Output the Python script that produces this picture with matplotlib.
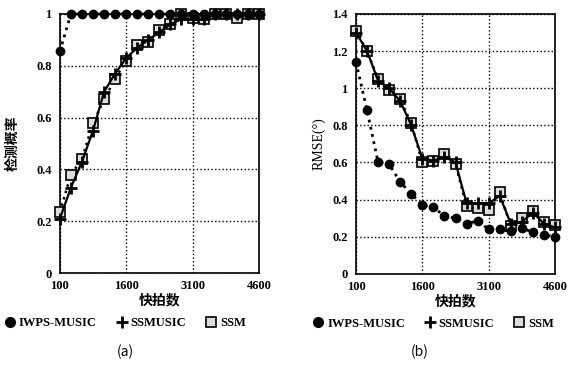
import numpy as np
import matplotlib
matplotlib.use("Agg")
import matplotlib.pyplot as plt
from matplotlib.lines import Line2D

# snapshot counts
snapshots = np.arange(100, 4601, 250)

# (a) detection probability
pd_iwps = [0.856, 1, 1, 1, 1, 1, 1, 1, 1, 1, 1, 1, 1, 1, 1, 1, 1, 1, 1]
pd_ssmusic = [0.21, 0.33, 0.43, 0.55, 0.70, 0.77, 0.83, 0.87, 0.90, 0.93,
              0.96, 0.98, 0.98, 0.98, 1, 1, 1, 1, 1]
pd_ssm = [0.235, 0.38, 0.44, 0.58, 0.67, 0.75, 0.82, 0.88, 0.89, 0.94,
          0.96, 1.0, 0.985, 0.98, 1, 1, 0.985, 1, 1]

# (b) RMSE
rmse_iwps = [1.14, 0.88, 0.60, 0.59, 0.495, 0.43, 0.37, 0.36, 0.31, 0.30,
             0.27, 0.285, 0.24, 0.24, 0.23, 0.245, 0.225, 0.21, 0.20]
rmse_ssmusic = [1.30, 1.20, 1.04, 1.00, 0.93, 0.80, 0.62, 0.61, 0.63, 0.60,
                0.38, 0.38, 0.38, 0.42, 0.27, 0.28, 0.33, 0.27, 0.25]
rmse_ssm = [1.31, 1.20, 1.05, 0.99, 0.94, 0.81, 0.60, 0.61, 0.645, 0.59,
            0.365, 0.355, 0.345, 0.44, 0.255, 0.30, 0.34, 0.28, 0.265]

names = ["IWPS-MUSIC", "SSMUSIC", "SSM"]
xticks = [100, 1600, 3100, 4600]

serif = ["Liberation Serif", "DejaVu Serif"]
cjk = ["Noto Sans CJK SC", "DejaVu Sans"]


def draw(ax, iwps, ssmusic, ssm, yticks, ylabels, leg_x):
    ax.plot(snapshots, ssm, color="black", ls=":", lw=1.8, marker="s", ms=6.5,
            mfc="#dddddd", mec="black", mew=1.2, zorder=3, clip_on=False)
    ax.plot(snapshots, ssmusic, color="black", ls="-", lw=1.6, marker="+", ms=8,
            mew=2.0, zorder=4, clip_on=False)
    ax.plot(snapshots, iwps, color="black", ls=":", lw=2.0, marker="o", ms=6,
            mfc="black", mec="black", zorder=5, clip_on=False)
    ax.set_xlim(100, 4600)
    ax.set_xticks(xticks)
    ax.set_xticklabels([str(v) for v in xticks], family=serif, fontsize=9,
                       fontweight="bold")
    ax.set_yticks(yticks)
    ax.set_yticklabels(ylabels, family=serif, fontsize=9, fontweight="bold")
    ax.grid(True, color="black", ls=":", lw=1.0)
    ax.tick_params(axis="x", length=0, pad=5)
    ax.tick_params(axis="y", length=0, pad=6)
    for s in ax.spines.values():
        s.set_linewidth(1.2)
    ax.set_xlabel("快拍数", family=cjk, fontsize=10, fontweight="bold", labelpad=1)

    handles = [
        Line2D([], [], color="black", ls="", marker="o", ms=7, mfc="black"),
        Line2D([], [], color="black", ls="", marker="+", ms=9, mew=2.0),
        Line2D([], [], color="black", ls="", marker="s", ms=7, mfc="#dddddd",
               mew=1.2),
    ]
    ax.legend(handles, names, loc="upper center", bbox_to_anchor=(leg_x, -0.15),
              ncol=3, frameon=False, handlelength=0.8, handletextpad=0.3,
              columnspacing=1.6, borderaxespad=0,
              prop={"family": serif, "size": 9, "weight": "bold"})


fig = plt.figure(figsize=(5.87, 3.68), dpi=100)
ax1 = fig.add_axes([0.102, 0.258, 0.339, 0.704])
ax2 = fig.add_axes([0.6065, 0.256, 0.339, 0.706])

draw(ax1, pd_iwps, pd_ssmusic, pd_ssm, [0, 0.2, 0.4, 0.6, 0.8, 1],
     ["0", "0.2", "0.4", "0.6", "0.8", "1"], 0.33)
ax1.set_ylim(0, 1)
ax1.set_ylabel("检测概率", family=cjk, fontsize=10, fontweight="bold", labelpad=12)

draw(ax2, rmse_iwps, rmse_ssmusic, rmse_ssm, [0, 0.2, 0.4, 0.6, 0.8, 1, 1.2, 1.4],
     ["0", "0.2", "0.4", "0.6", "0.8", "1", "1.2", "1.4"], 0.39)
ax2.set_ylim(0, 1.4)
ax2.set_ylabel("RMSE(°)", family=serif, fontsize=10, labelpad=5)

fig.text(125 / 587, 1 - 352 / 368, "(a)", family=cjk, fontsize=10,
         ha="center", va="center")
fig.text(420 / 587, 1 - 352 / 368, "(b)", family=cjk, fontsize=10,
         ha="center", va="center")

fig.savefig("out.png", dpi=100)
